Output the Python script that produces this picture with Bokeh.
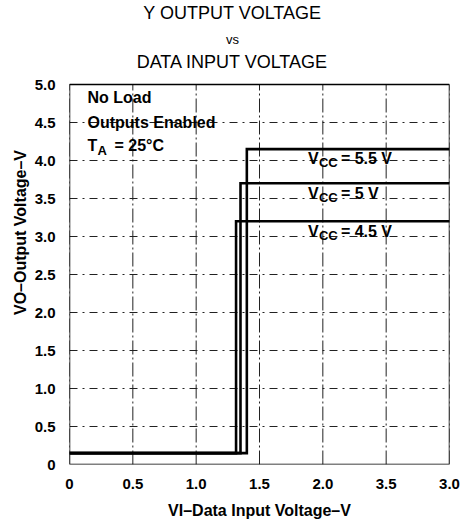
from bokeh.plotting import figure
from bokeh.models import Label, FixedTicker, Title
from bokeh.embed import file_html
from bokeh.resources import INLINE

# ---- data ----
vcc_values = ["4.5", "5", "5.5"]
x_switch = [1.315, 1.35, 1.40]
vo_low = [0.15, 0.15, 0.15]
vo_high = [3.20, 3.70, 4.15]
x_start = 0.0
x_end = 3.0
y_min = 0.0
y_max = 5.0
x_ticks = [0, 0.5, 1.0, 1.5, 2.0, 2.5, 3.0]
x_tick_labels = ["0", "0.5", "1.0", "1.5", "2.0", "3.5", "3.0"]
y_ticks = [0, 0.5, 1.0, 1.5, 2.0, 2.5, 3.0, 3.5, 4.0, 4.5, 5.0]
y_tick_labels = ["0", "0.5", "1.0", "1.5", "2.0", "2.5", "3.0", "3.5", "4.0", "4.5", "5.0"]
title_lines = ["Y OUTPUT VOLTAGE", "vs", "DATA INPUT VOLTAGE"]
conditions = ["No Load", "Outputs Enabled"]
x_label = "VI\u2013Data Input Voltage\u2013V"
y_label = "VO\u2013Output Voltage\u2013V"

FONT = "Liberation Sans"
FRAME_L = 69
FRAME_B = 464
BOX_H = 380          # pixel height of the 0..5 V box
FRAME_H = 464        # frame reaches the top of the page so that the title can sit in it

p = figure(frame_width=380, frame_height=FRAME_H,
           x_range=(x_start, x_end), y_range=(y_min, y_max * FRAME_H / BOX_H),
           min_border_left=69, min_border_right=11,
           min_border_top=0, min_border_bottom=60,
           output_backend="svg", toolbar_location=None)
p.title.visible = False
p.background_fill_color = "white"
p.border_fill_color = "white"
p.outline_line_color = None

for ax, ticks, labels in ((p.xaxis[0], x_ticks, x_tick_labels), (p.yaxis[0], y_ticks, y_tick_labels)):
    ax.ticker = FixedTicker(ticks=ticks)
    ax.major_label_overrides = {t: l for t, l in zip(ticks, labels)}
    ax.major_label_text_font = FONT
    ax.major_label_text_font_style = "bold"
    ax.major_label_text_font_size = "15px"
    ax.major_label_text_color = "black"
    ax.major_tick_line_color = None
    ax.minor_tick_line_color = None
    ax.axis_line_color = None
    ax.major_label_standoff = 8
    ax.axis_label_text_font = FONT
    ax.axis_label_text_font_style = "bold"
    ax.axis_label_text_font_size = "16px"
    ax.axis_label_text_color = "black"

p.xaxis.axis_label = x_label
p.xaxis.axis_label_standoff = 10

# y-axis title, centred on the 0..5 V box rather than on the full frame
p.add_layout(Title(text=y_label, text_font=FONT, text_font_size="16px", text_font_style="bold",
                   text_color="black", align="center", offset=-31, standoff=6), "left")

# grid: horizontal from the axis ticker, vertical drawn inside the box only
p.xgrid.visible = False
p.ygrid.grid_line_color = "#222222"
p.ygrid.grid_line_width = 1
p.ygrid.grid_line_dash = "8 5 2 5"
p.segment(x0=x_ticks, y0=[y_min] * len(x_ticks), x1=x_ticks, y1=[y_max] * len(x_ticks),
          line_color="#222222", line_width=1, line_dash="14 3 2 3")

# plot box
p.quad(left=[x_start], right=[x_end], bottom=[y_min], top=[y_max],
       fill_color=None, line_color="black", line_width=1.5)

# ---- curves ----
for xs, lo, hi in zip(x_switch, vo_low, vo_high):
    p.line([x_start, xs, xs, x_end], [lo, lo, hi, hi],
           line_color="black", line_width=2.6, line_join="miter")

# ---- curve labels ----
for v, hi in zip(vcc_values, vo_high):
    y = hi - 0.13
    base = dict(x=1.882, y=y, text_font=FONT, text_font_style="bold",
                text_baseline="middle", text_align="left", text_color="black")
    p.add_layout(Label(text="V", text_font_size="16px", **base))
    p.add_layout(Label(text="CC", text_font_size="13px", x_offset=11, y_offset=-4, **base))
    p.add_layout(Label(text="= " + v + " V", text_font_size="16px", x_offset=33, **base))


def add_text(X, Y, text, size, align="left", bold=True):
    p.add_layout(Label(x=X - FRAME_L, y=FRAME_B - Y, x_units="screen", y_units="screen",
                       text=text, text_font=FONT, text_font_size=f"{size}px",
                       text_font_style="bold" if bold else "normal",
                       text_align=align, text_baseline="middle", text_color="black"))


# title
add_text(232, 12, title_lines[0], 18, align="center", bold=False)
add_text(232, 39, title_lines[1], 13, align="center", bold=False)
add_text(232, 61, title_lines[2], 18, align="center", bold=False)

# conditions box text
add_text(87, 97, conditions[0], 16)
add_text(87, 122, conditions[1], 16)
add_text(87, 145, "T", 16)
add_text(97, 150, "A", 13)
add_text(114, 145, "= 25\u00b0C", 16)

open("out.html", "w").write(file_html(p, INLINE))
